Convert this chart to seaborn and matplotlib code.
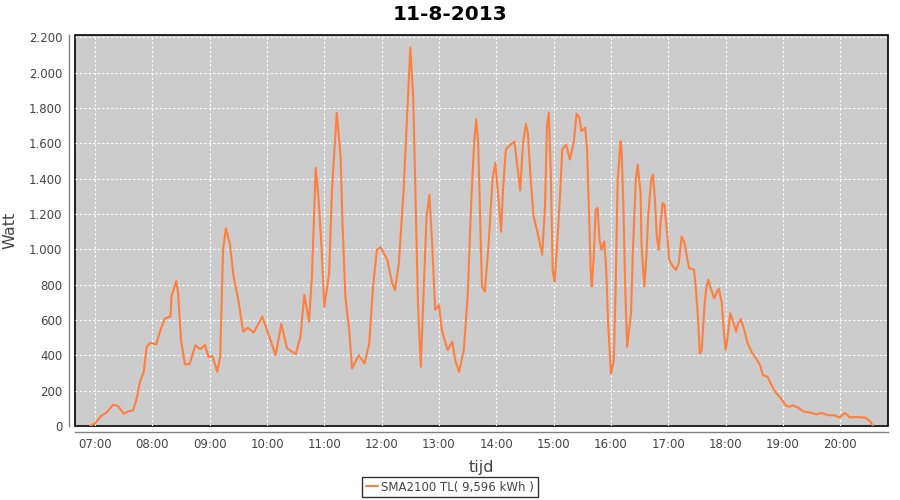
import pandas as pd
import matplotlib
matplotlib.use("Agg")
import matplotlib.pyplot as plt
import matplotlib.dates as mdates
from matplotlib.ticker import MultipleLocator, FuncFormatter
import seaborn as sns

# measured power of the inverter on 11-8-2013
times = [
    "06:55", "07:00", "07:07", "07:12", "07:19", "07:24", "07:30", "07:35", "07:40", "07:44",
    "07:47", "07:51", "07:54", "07:58", "08:04", "08:08", "08:13", "08:19", "08:20", "08:25",
    "08:27", "08:30", "08:34", "08:39", "08:45", "08:50", "08:55", "08:59", "09:03", "09:08",
    "09:11", "09:14", "09:17", "09:21", "09:25", "09:30", "09:35", "09:40", "09:46", "09:55",
    "10:00", "10:09", "10:15", "10:21", "10:30", "10:35", "10:39", "10:44", "10:47", "10:51",
    "10:54", "10:57", "11:00", "11:05", "11:08", "11:13", "11:17", "11:19", "11:22", "11:26",
    "11:29", "11:36", "11:42", "11:47", "11:51", "11:55", "11:59", "12:06", "12:11", "12:14",
    "12:18", "12:23", "12:28", "12:30", "12:33", "12:36", "12:38", "12:41", "12:44", "12:47",
    "12:50", "12:53", "12:56", "13:00", "13:03", "13:09", "13:14", "13:17", "13:21", "13:26",
    "13:30", "13:34", "13:37", "13:39", "13:41", "13:43", "13:45", "13:48", "13:52", "13:56",
    "13:59", "14:02", "14:05", "14:07", "14:10", "14:13", "14:19", "14:22", "14:25", "14:28",
    "14:31", "14:33", "14:36", "14:39", "14:43", "14:47", "14:48", "14:51", "14:53", "14:55",
    "14:57", "14:59", "15:01", "15:04", "15:07", "15:09", "15:13", "15:17", "15:21", "15:24",
    "15:27", "15:29", "15:33", "15:35", "15:37", "15:39", "15:40", "15:42", "15:44", "15:46",
    "15:48", "15:50", "15:53", "15:55", "15:57", "16:00", "16:03", "16:05", "16:07", "16:10",
    "16:11", "16:13", "16:15", "16:17", "16:21", "16:23", "16:26", "16:28", "16:31", "16:32",
    "16:35", "16:37", "16:39", "16:42", "16:44", "16:46", "16:48", "16:50", "16:52", "16:54",
    "16:56", "16:59", "17:01", "17:05", "17:08", "17:11", "17:14", "17:17", "17:20", "17:22",
    "17:27", "17:29", "17:31", "17:33", "17:35", "17:38", "17:40", "17:42", "17:45", "17:48",
    "17:51", "17:53", "17:56", "17:58", "18:00", "18:02", "18:04", "18:05", "18:09", "18:11",
    "18:13", "18:16", "18:20", "18:23", "18:28", "18:32", "18:36", "18:39", "18:44", "18:48",
    "18:52", "18:58", "19:03", "19:07", "19:10", "19:16", "19:21", "19:30", "19:35", "19:40",
    "19:47", "19:54", "19:59", "20:05", "20:10", "20:15", "20:26", "20:31", "20:34",
]
watt = [
    0, 15, 60, 76, 121, 113, 70, 83, 89, 165,
    250, 306, 448, 471, 462, 534, 609, 619, 732, 821,
    751, 486, 350, 350, 458, 434, 458, 388, 396, 306,
    392, 997, 1120, 1035, 846, 713, 534, 556, 528, 619,
    543, 401, 577, 439, 407, 505, 742, 590, 846, 1461,
    1281, 1016, 675, 865, 1338, 1773, 1527, 1149, 732, 543,
    326, 401, 354, 468, 789, 997, 1012, 940, 808, 770,
    922, 1338, 1905, 2142, 1867, 1167, 695, 335, 770, 1186,
    1309, 1016, 657, 685, 543, 430, 477, 373, 306, 430,
    732, 1300, 1621, 1735, 1603, 1205, 789, 760, 1035, 1394,
    1489, 1300, 1100, 1338, 1565, 1583, 1610, 1470, 1333, 1603,
    1710, 1659, 1394, 1186, 1100, 997, 969, 1243, 1697, 1773,
    1432, 884, 817, 1054, 1338, 1565, 1593, 1508, 1603, 1769,
    1745, 1669, 1688, 1565, 1205, 846, 789, 959, 1224, 1234,
    1054, 997, 1044, 884, 581, 297, 370, 812, 1385, 1612,
    1583, 1243, 770, 448, 638, 997, 1394, 1479, 1319, 1016,
    789, 959, 1186, 1394, 1423, 1281, 1073, 997, 1149, 1262,
    1253, 1073, 940, 902, 884, 922, 1073, 1035, 940, 893,
    884, 770, 619, 411, 430, 690, 789, 829, 770, 723,
    760, 777, 695, 543, 430, 500, 600, 638, 571, 534,
    581, 604, 534, 468, 411, 382, 344, 288, 278, 231,
    193, 155, 117, 108, 117, 104, 83, 74, 66, 74,
    61, 61, 48, 74, 48, 51, 48, 28, 4,
]
series_label = "SMA2100 TL( 9,596 kWh )"
chart_title = "11-8-2013"

df = pd.DataFrame({
    "tijd": pd.to_datetime(["2013-08-11 " + t for t in times]),
    "Watt": watt,
})

sns.set_style("white")
plt.rcParams["font.family"] = ["DejaVu Sans"]

fig = plt.figure(figsize=(9, 5), dpi=100)
ax = fig.add_axes([0.0833, 0.148, 0.9034, 0.782])

sns.lineplot(data=df, x="tijd", y="Watt", ax=ax, color="#FF7F3F",
             linewidth=1.5, label=series_label)

# plot area
ax.set_facecolor("#CCCCCC")
ax.patch.set_edgecolor("black")
ax.patch.set_linewidth(1.2)
ax.grid(True, color="white", linestyle=(0, (2, 2)), linewidth=0.8)
ax.set_axisbelow(True)

for side in ["top", "right"]:
    ax.spines[side].set_visible(False)
for side in ["left", "bottom"]:
    ax.spines[side].set_position(("outward", 4))
    ax.spines[side].set_color("#808080")
    ax.spines[side].set_linewidth(1)

# axes
ax.set_xlim(pd.Timestamp("2013-08-11 06:39"), pd.Timestamp("2013-08-11 20:50"))
ax.xaxis.set_major_locator(mdates.HourLocator())
ax.xaxis.set_major_formatter(mdates.DateFormatter("%H:%M"))
ax.set_ylim(0, 2213)
ax.yaxis.set_major_locator(MultipleLocator(200))
ax.yaxis.set_major_formatter(FuncFormatter(lambda v, p: f"{int(v):,}".replace(",", ".")))
ax.tick_params(axis="both", colors="#808080", labelcolor="#444444",
               length=3, width=1, labelsize=8.5, pad=2)

ax.set_xlabel("tijd", fontsize=11.5, color="#444444", labelpad=6)
ax.set_ylabel("Watt", fontsize=11.5, color="#444444", labelpad=8)
fig.text(0.5, 0.972, chart_title, ha="center", va="center",
         fontsize=14.5, fontweight="bold", color="black")

# legend below the chart
handles, labels = ax.get_legend_handles_labels()
ax.get_legend().remove()
leg = fig.legend(handles, labels, loc="center", bbox_to_anchor=(0.5, 0.026),
                 fontsize=8.5, frameon=True, fancybox=False, handlelength=1.0,
                 handletextpad=0.3, borderpad=0.3, borderaxespad=0)
leg.get_frame().set_edgecolor("black")
leg.get_frame().set_linewidth(1)
for txt in leg.get_texts():
    txt.set_color("#444444")

fig.savefig("out.png", dpi=100)
